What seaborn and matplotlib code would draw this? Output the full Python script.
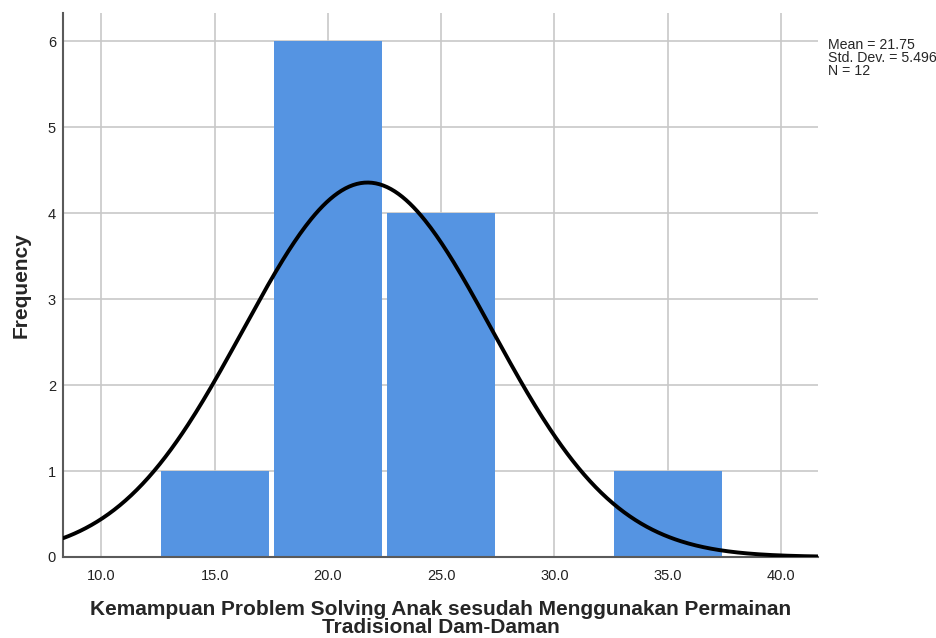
import numpy as np
import pandas as pd
import matplotlib.pyplot as plt
import seaborn as sns

# histogram bins (centers) and counts
bin_centers = [15.0, 20.0, 25.0, 30.0, 35.0]
bin_counts = [1, 6, 4, 0, 1]
bin_width = 5.0

mean_val = 21.75
std_val = 5.496
n_val = 12

x_ticks = [10, 15, 20, 25, 30, 35, 40]
y_ticks = [0, 1, 2, 3, 4, 5, 6]

sns.set_style("white")
plt.rcParams["font.family"] = ["Liberation Sans", "DejaVu Sans"]

fig = plt.figure(figsize=(9.37, 6.38), dpi=100)
ax = fig.add_axes([0.0672, 0.127, 0.806, 0.853])

df = pd.DataFrame({"value": bin_centers, "count": bin_counts})
lo = bin_centers[0] - bin_width / 2
hi = bin_centers[-1] + bin_width / 2
sns.histplot(data=df, x="value", weights="count", binwidth=bin_width, binrange=(lo, hi), ax=ax,
             shrink=0.955, color="#5594E2", alpha=1.0, linewidth=0, zorder=2)

# normal curve scaled to counts
xs = np.linspace(8.3, 41.7, 400)
ys = n_val * bin_width / (std_val * np.sqrt(2 * np.pi)) * np.exp(-0.5 * ((xs - mean_val) / std_val) ** 2)
sns.lineplot(x=xs, y=ys, ax=ax, color="black", linewidth=2.8, zorder=3)

ax.set_xlim(8.3, 41.65)
ax.set_ylim(0, 6.33)
ax.set_xticks(x_ticks)
ax.set_xticklabels([f"{t:.1f}" for t in x_ticks], fontsize=10.5, color="#222222")
ax.set_yticks(y_ticks)
ax.set_yticklabels([str(t) for t in y_ticks], fontsize=10.5, color="#222222")
ax.tick_params(axis="x", length=0, pad=9)
ax.tick_params(axis="y", length=0, pad=5)
ax.grid(True, color="#c8c8c8", linewidth=1.2, zorder=0)
ax.set_axisbelow(True)

for side in ["top", "right"]:
    ax.spines[side].set_visible(False)
for side in ["left", "bottom"]:
    ax.spines[side].set_color("#5a5a5a")
    ax.spines[side].set_linewidth(1.5)

ax.set_ylabel("Frequency", fontsize=15, fontweight="bold")
ax.yaxis.set_label_coords(-0.043, 0.5)
ax.set_xlabel("Kemampuan Problem Solving Anak sesudah Menggunakan Permainan\nTradisional Dam-Daman",
              fontsize=15, fontweight="bold", labelpad=12, linespacing=0.9)

fig.text(0.884, 0.94, f"Mean = {mean_val}\nStd. Dev. = {std_val}\nN = {n_val}",
         fontsize=10.2, va="top", ha="left", linespacing=0.88)

fig.savefig("out.png", dpi=100)
